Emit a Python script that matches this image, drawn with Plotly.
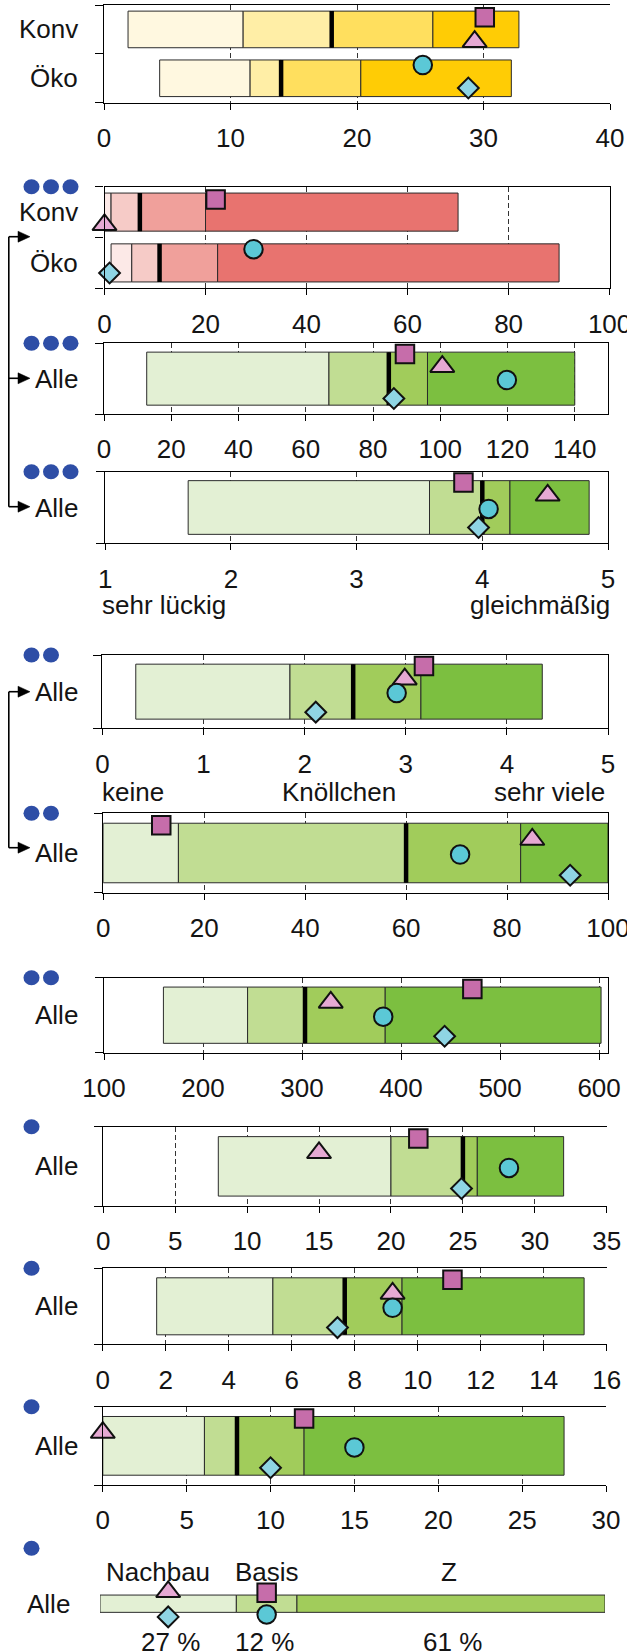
import plotly.graph_objects as go

W, H = 627, 1652

# ---------------- data ----------------
# five-number summaries per row: minimum, lower quartile, median, upper quartile, maximum
p1_konv = [1.9, 11.0, 18.0, 26.0, 32.8]
p1_oeko = [4.4, 11.55, 14.0, 20.3, 32.2]
p2_konv = [0.0, 1.3, 7.0, 20.0, 70.0]
p2_oeko = [1.3, 5.4, 10.9, 22.4, 90.0]
p3_alle = [12.7, 66.9, 84.7, 96.2, 140.0]
p4_alle = [1.66, 3.58, 4.0, 4.22, 4.85]
p5_alle = [0.33, 1.855, 2.48, 3.15, 4.35]
p6_alle = [0.0, 14.9, 60.0, 82.7, 100.0]
p7_alle = [160, 245, 303, 384, 602]
p8_alle = [8.0, 20.0, 25.0, 26.0, 32.0]
p9_alle = [1.71, 5.4, 7.68, 9.5, 15.28]
p10_alle = [0.0, 6.06, 8.0, 12.0, 27.5]

# single values shown as symbols
p1_konv_marks = {"square": 30.1, "triangle": 29.3}
p1_oeko_marks = {"circle": 25.2, "diamond": 28.8}
p2_konv_marks = {"square": 22.0, "triangle": 0.0}
p2_oeko_marks = {"circle": 29.5, "diamond": 1.0}
p3_marks = {"square": 89.5, "triangle": 100.6, "circle": 119.8, "diamond": 86.2}
p4_marks = {"square": 3.85, "triangle": 4.52, "circle": 4.05, "diamond": 3.97}
p5_marks = {"square": 3.18, "triangle": 2.99, "circle": 2.91, "diamond": 2.11}
p6_marks = {"square": 11.5, "triangle": 85.0, "circle": 70.7, "diamond": 92.5}
p7_marks = {"square": 472, "triangle": 329, "circle": 382, "diamond": 444}
p8_marks = {"square": 21.9, "triangle": 15.0, "circle": 28.2, "diamond": 24.9}
p9_marks = {"square": 11.1, "triangle": 9.2, "circle": 9.2, "diamond": 7.45}
p10_marks = {"square": 12.0, "triangle": 0.0, "circle": 15.0, "diamond": 10.0}

# seed categories (percent shares) and which category each symbol belongs to
seed_cats = ["Nachbau", "Basis", "Z"]
seed_share = [27, 12, 61]
seed_marks = {"triangle": "Nachbau", "square": "Basis", "diamond": "Nachbau", "circle": "Basis"}

# axis ticks
p1_ticks = [0, 10, 20, 30, 40]
p2_ticks = [0, 20, 40, 60, 80, 100]
p3_ticks = [0, 20, 40, 60, 80, 100, 120, 140]
p4_ticks = [1, 2, 3, 4, 5]
p5_ticks = [0, 1, 2, 3, 4, 5]
p6_ticks = [0, 20, 40, 60, 80, 100]
p7_ticks = [100, 200, 300, 400, 500, 600]
p8_ticks = [0, 5, 10, 15, 20, 25, 30, 35]
p9_ticks = [0, 2, 4, 6, 8, 10, 12, 14, 16]
p10_ticks = [0, 5, 10, 15, 20, 25, 30]

# ---------------- styling ----------------
YELLOW = ["#FFF8E0", "#FFEEA6", "#FFDF5E", "#FFCC05"]
RED = ["#FCE9E7", "#F6CBC7", "#F0A09B", "#E8736F"]
GREEN = ["#E3F0D4", "#C1DD93", "#A1CC5B", "#7CBF40"]
EDGE = "#2b2b2b"
TXT = "#141414"
DOT = "#2E4EA6"
FONT = "Liberation Sans, Arial, sans-serif"
FS = 26
BAR_W = 0.75

SYMBOLS = {
    "square": dict(symbol="square", color="#C66DAA", size=18.5),
    "triangle": dict(symbol="triangle-up", color="#E6A9D3", size=21),
    "circle": dict(symbol="circle", color="#5BC8D6", size=18.5),
    "diamond": dict(symbol="diamond", color="#8FD5E4", size=16),
}
OFF_SINGLE = {"square": -0.35, "triangle": -0.17, "circle": 0.02, "diamond": 0.28}
OFF_PAIR = {"square": -0.25, "triangle": 0.25, "circle": -0.27, "diamond": 0.2}

panels = [
    dict(cats=["Konv", "Öko"], stats=[p1_konv, p1_oeko], marks=[p1_konv_marks, p1_oeko_marks],
         pal=YELLOW, xr=[0, 40], ticks=p1_ticks, dx=(104, 610), dy=(5, 102.7), dots=0, right=False),
    dict(cats=["Konv", "Öko"], stats=[p2_konv, p2_oeko], marks=[p2_konv_marks, p2_oeko_marks],
         pal=RED, xr=[0, 100], ticks=p2_ticks, dx=(104.5, 609.6), dy=(186.7, 288.3), dots=3, right=True),
    dict(cats=["Alle"], stats=[p3_alle], marks=[p3_marks], pal=GREEN, xr=[0, 150], ticks=p3_ticks,
         dx=(104, 608.4), dy=(343.3, 414), dots=3, right=True),
    dict(cats=["Alle"], stats=[p4_alle], marks=[p4_marks], pal=GREEN, xr=[1, 5], ticks=p4_ticks,
         dx=(105.2, 608), dy=(471.7, 543.3), dots=3, right=True),
    dict(cats=["Alle"], stats=[p5_alle], marks=[p5_marks], pal=GREEN, xr=[0, 5], ticks=p5_ticks,
         dx=(102.4, 608), dy=(655, 728.3), dots=2, right=True),
    dict(cats=["Alle"], stats=[p6_alle], marks=[p6_marks], pal=GREEN, xr=[0, 100], ticks=p6_ticks,
         dx=(103.2, 608), dy=(813.3, 892.7), dots=2, right=True),
    dict(cats=["Alle"], stats=[p7_alle], marks=[p7_marks], pal=GREEN, xr=[100, 609], ticks=p7_ticks,
         dx=(104, 608), dy=(977.7, 1052.7), dots=2, right=True),
    dict(cats=["Alle"], stats=[p8_alle], marks=[p8_marks], pal=GREEN, xr=[0, 35], ticks=p8_ticks,
         dx=(103.2, 606.8), dy=(1126.7, 1206), dots=1, right=False),
    dict(cats=["Alle"], stats=[p9_alle], marks=[p9_marks], pal=GREEN, xr=[0, 16], ticks=p9_ticks,
         dx=(102.8, 606.8), dy=(1268.3, 1344.3), dots=1, right=False),
    dict(cats=["Alle"], stats=[p10_alle], marks=[p10_marks], pal=GREEN, xr=[0, 30], ticks=p10_ticks,
         dx=(102.8, 606), dy=(1406.7, 1485), dots=1, right=False),
]


def xp(px):
    return px / W


def yp(py):
    return 1 - py / H


fig = go.Figure()
layout = {}
annotations = []
shapes = []


def add_marker(name, x, y, xa, ya):
    s = SYMBOLS[name]
    fig.add_trace(go.Scatter(
        x=[x], y=[y], mode="markers", xaxis=xa, yaxis=ya, showlegend=False, hoverinfo="skip",
        cliponaxis=False,
        marker=dict(symbol=s["symbol"], color=s["color"], size=s["size"],
                    line=dict(color="#111111", width=2)),
    ))


def add_dots(n, top):
    for j in range(n):
        cx = 31.5 + 19.5 * j
        shapes.append(dict(type="circle", xref="paper", yref="paper",
                           x0=xp(cx - 8), x1=xp(cx + 8), y0=yp(top + 7.5), y1=yp(top - 7.5),
                           fillcolor=DOT, line=dict(width=0)))


for i, p in enumerate(panels, start=1):
    xa = "x" if i == 1 else f"x{i}"
    ya = "y" if i == 1 else f"y{i}"
    n = len(p["cats"])
    offs = OFF_PAIR if n == 2 else OFF_SINGLE
    for ci, (stats, marks) in enumerate(zip(p["stats"], p["marks"])):
        for s in range(4):
            fig.add_trace(go.Bar(
                x=[stats[s + 1] - stats[s]], base=[stats[s]], y=[ci], orientation="h",
                width=BAR_W, xaxis=xa, yaxis=ya, showlegend=False, hoverinfo="skip",
                marker=dict(color=p["pal"][s], line=dict(color=EDGE, width=1)),
            ))
        fig.add_trace(go.Scatter(
            x=[stats[2], stats[2]], y=[ci - BAR_W / 2, ci + BAR_W / 2], mode="lines",
            xaxis=xa, yaxis=ya, showlegend=False, hoverinfo="skip",
            line=dict(color="black", width=4.5),
        ))
        for name, val in marks.items():
            add_marker(name, val, ci + offs[name], xa, ya)
        annotations.append(dict(text=p["cats"][ci], xref="paper", x=xp(80), xanchor="right",
                                yref=ya, y=ci, yanchor="middle", showarrow=False,
                                font=dict(size=FS, color=TXT)))

    layout["xaxis" if i == 1 else f"xaxis{i}"] = dict(
        domain=[xp(p["dx"][0]), xp(p["dx"][1])], range=p["xr"], tickvals=p["ticks"],
        anchor=ya, ticks="outside", ticklen=6, tickwidth=1.2, tickcolor="black",
        showline=True, linecolor="black", linewidth=1.3, mirror=True, automargin=False,
        showgrid=True, gridcolor="#333333", gridwidth=1, griddash="5px,3px", zeroline=False,
        tickfont=dict(size=FS, color=TXT), ticklabelstandoff=6, ticklabeloverflow="allow",
    )
    layout["yaxis" if i == 1 else f"yaxis{i}"] = dict(
        domain=[yp(p["dy"][1]), yp(p["dy"][0])], range=[n - 0.5, -0.5],
        tickvals=[k - 0.5 for k in range(n + 1)], anchor=xa, automargin=False,
        ticks="outside", ticklen=8, tickwidth=1.2, tickcolor="black", showticklabels=False,
        showline=True, linecolor="black", linewidth=1.3, mirror=p["right"],
        showgrid=False, zeroline=False,
    )
    add_dots(p["dots"], p["dy"][0])

# ---- seed category bar ----
xa, ya = "x11", "y11"
edges = [0]
for v in seed_share:
    edges.append(edges[-1] + v)
centers = {c: (edges[k] + edges[k + 1]) / 2 for k, c in enumerate(seed_cats)}
SEED_W = 0.393
for k, c in enumerate(seed_cats):
    fig.add_trace(go.Bar(
        x=[seed_share[k]], base=[edges[k]], y=[0], orientation="h", width=SEED_W,
        xaxis=xa, yaxis=ya, showlegend=False, hoverinfo="skip",
        marker=dict(color=GREEN[k], line=dict(color=EDGE, width=1)),
    ))
    annotations.append(dict(text=c, xref=xa, x=centers[c], xshift=-10 if k == 0 else (-2 if k == 2 else 0),
                            yref="paper", y=yp(1571.7), yanchor="middle", showarrow=False,
                            font=dict(size=FS, color=TXT)))
    annotations.append(dict(text=f"{seed_share[k]} %", xref=xa, x=centers[c], xshift=2 if k != 1 else -2,
                            yref="paper", y=yp(1641.7), yanchor="middle", showarrow=False,
                            font=dict(size=FS, color=TXT)))
seed_off = {"triangle": -0.27, "square": -0.25, "diamond": 0.3, "circle": 0.245}
for name, cat in seed_marks.items():
    add_marker(name, centers[cat], seed_off[name], xa, ya)
annotations.append(dict(text="Alle", xref="paper", x=xp(72), xanchor="right", yref=ya, y=0,
                        yanchor="middle", showarrow=False, font=dict(size=FS, color=TXT)))
layout["xaxis11"] = dict(domain=[xp(100), xp(605)], range=[0, 100], anchor=ya, visible=False,
                         automargin=False)
layout["yaxis11"] = dict(domain=[yp(1625.7), yp(1581.7)], range=[0.5, -0.5], anchor=xa, visible=False,
                         automargin=False)
add_dots(1, 1548.3)

# ---- scale end labels ----
for text, x, anchor, y in [
    ("sehr lückig", 100, "left", 605), ("gleichmäßig", 612, "right", 605),
    ("keine", 100, "left", 792), ("Knöllchen", 339, "center", 792), ("sehr viele", 607, "right", 792),
]:
    annotations.append(dict(text=text, xref="paper", x=xp(x), xanchor=anchor, yref="paper", y=yp(y),
                            yanchor="middle", showarrow=False, font=dict(size=FS, color=TXT)))


# ---- connector brackets with arrows ----
def hline(x0, x1, y):
    shapes.append(dict(type="line", xref="paper", yref="paper", x0=xp(x0), x1=xp(x1),
                       y0=yp(y), y1=yp(y), line=dict(color="black", width=1.6)))


def vline(x, y0, y1):
    shapes.append(dict(type="line", xref="paper", yref="paper", x0=xp(x), x1=xp(x),
                       y0=yp(y0), y1=yp(y1), line=dict(color="black", width=1.6)))


def arrow(y, x0=8.8, tip=30):
    hline(x0, tip - 10, y)
    path = f"M {xp(tip - 12)} {yp(y - 5.5)} L {xp(tip)} {yp(y)} L {xp(tip - 12)} {yp(y + 5.5)} Z"
    shapes.append(dict(type="path", xref="paper", yref="paper", path=path,
                       fillcolor="black", line=dict(color="black", width=0.5)))


vline(8.8, 236.7, 506.7)
for y in (236.7, 378.3, 506.7):
    arrow(y)
vline(8.8, 691.7, 847.7)
for y in (691.7, 847.7):
    arrow(y)

fig.update_layout(
    width=W, height=H, margin=dict(l=0, r=0, t=0, b=0, autoexpand=False),
    paper_bgcolor="white", plot_bgcolor="white", barmode="overlay",
    font=dict(family=FONT, color=TXT), showlegend=False,
    annotations=annotations, shapes=shapes, **layout,
)

fig.write_html("out.html")
